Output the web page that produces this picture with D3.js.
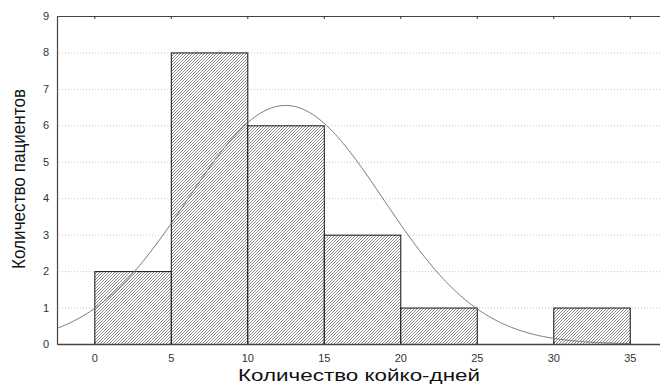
<!DOCTYPE html>
<html><head><meta charset="utf-8">
<script src="https://cdn.jsdelivr.net/npm/d3@7"></script>
<style>body{margin:0;background:#fff}svg{display:block}</style>
</head><body>
<svg id="c" width="660" height="387"></svg>
<script>
const binStarts = [0, 5, 10, 15, 20, 25, 30];
const binWidth = 5;
const counts = [2, 8, 6, 3, 1, 0, 1];
const xTicks = [0, 5, 10, 15, 20, 25, 30, 35];
const yTicks = [0, 1, 2, 3, 4, 5, 6, 7, 8, 9];
const fitMean = 12.5;
const fitSd = 6.4;
const xTitle = "Количество койко-дней";
const yTitle = "Количество пациентов";

(function () {
const svg = d3.select("#c");
const x = d3.scaleLinear().domain([-2.44, 37.5]).range([57, 668]);
const y = d3.scaleLinear().domain([0, 9]).range([344, 16]);

const defs = svg.append("defs");
const pat = defs.append("pattern").attr("id", "hatch").attr("patternUnits", "userSpaceOnUse")
  .attr("width", 3).attr("height", 3);
pat.append("rect").attr("width", 3).attr("height", 3).attr("fill", "#fff");
pat.append("path").attr("d", "M-1,1 L1,-1 M0,3 L3,0 M2,4 L4,2").attr("stroke", "#666").attr("stroke-width", 0.75);

// gridlines
svg.append("g").selectAll("line").data(yTicks.filter(d => d > 0 && d < 9)).join("line")
  .attr("x1", x.range()[0] + 2).attr("x2", 660)
  .attr("y1", d => y(d) + 0.5).attr("y2", d => y(d) + 0.5)
  .attr("stroke", "#c8c8c8").attr("stroke-dasharray", "1,2");

// bars
const N = d3.sum(counts);
svg.append("g").selectAll("rect").data(binStarts.map((s, i) => ({s, c: counts[i]})).filter(d => d.c > 0)).join("rect")
  .attr("x", d => x(d.s) + 0.5).attr("y", d => y(d.c) + 0.5)
  .attr("width", d => x(d.s + binWidth) - x(d.s))
  .attr("height", d => y(0) - y(d.c))
  .attr("fill", "url(#hatch)").attr("stroke", "#111").attr("stroke-width", 1);

// fitted normal curve
const xs = d3.range(x.domain()[0], 35.01, 0.1);
const fit = v => N * binWidth / (fitSd * Math.sqrt(2 * Math.PI)) * Math.exp(-((v - fitMean) ** 2) / (2 * fitSd * fitSd));
svg.append("path").datum(xs)
  .attr("d", d3.line().x(d => x(d)).y(d => y(fit(d))))
  .attr("fill", "none").attr("stroke", "#777").attr("stroke-width", 1);

// axes
const gBottom = svg.append("g").attr("transform", `translate(0,${y(0)})`)
  .call(d3.axisBottom(x).tickValues(xTicks).tickSizeInner(-3).tickSizeOuter(0).tickPadding(10));
const gTop = svg.append("g").attr("transform", `translate(0,${y(9)})`)
  .call(d3.axisTop(x).tickValues(xTicks).tickSizeInner(-3).tickSizeOuter(0).tickFormat(""));
const gLeft = svg.append("g").attr("transform", `translate(${x.range()[0]},0)`)
  .call(d3.axisLeft(y).tickValues(yTicks).tickSizeInner(0).tickSizeOuter(0).tickPadding(8));
[gBottom, gTop, gLeft].forEach(g => {
  g.select(".domain").attr("stroke", "#444").attr("stroke-width", 1.2);
  g.selectAll(".tick line").attr("stroke", "#333");
  g.selectAll("text").attr("font-family", "Liberation Sans, Arial, sans-serif").attr("font-size", 11).attr("fill", "#333");
});
gBottom.select(".domain").attr("stroke-width", 1.5);

svg.append("text").attr("x", 359).attr("y", 381).attr("text-anchor", "middle")
  .attr("font-family", "Liberation Sans, Arial, sans-serif").attr("font-size", 17).attr("fill", "#111")
  .attr("textLength", 242).attr("lengthAdjust", "spacingAndGlyphs").text(xTitle);
svg.append("text").attr("transform", "translate(25,179) rotate(-90)").attr("text-anchor", "middle")
  .attr("font-family", "Liberation Sans Narrow, Arial Narrow, Liberation Sans, sans-serif").attr("font-size", 19).attr("fill", "#111")
  .attr("textLength", 180).attr("lengthAdjust", "spacingAndGlyphs").text(yTitle);
})();
</script>
</body></html>
